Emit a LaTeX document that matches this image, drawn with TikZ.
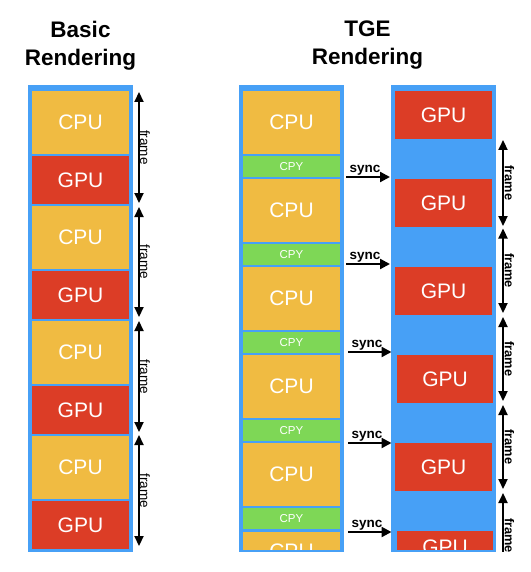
\documentclass[tikz,border=0pt]{standalone}
\usepackage{fontspec}
\setmainfont{Liberation Sans}
\usetikzlibrary{arrows.meta}
\definecolor{tgeblue}{RGB}{71,160,246}
\definecolor{cpuyellow}{RGB}{240,187,66}
\definecolor{gpured}{RGB}{220,61,38}
\definecolor{cpygreen}{RGB}{126,215,86}
\tikzset{
  col/.style={fill=tgeblue, draw=none, inner sep=0pt, outer sep=0pt, anchor=north west, minimum width=105pt, minimum height=467pt},
  blk/.style={draw=none, inner sep=0pt, outer sep=0pt, anchor=north west, minimum width=97pt, text=white, font=\fontsize{21}{21}\selectfont},
  cpu/.style={blk, fill=cpuyellow, minimum height=63pt},
  gpu/.style={blk, fill=gpured, minimum height=48pt},
  cpy/.style={blk, fill=cpygreen, minimum height=21pt, font=\fontsize{11.5}{11.5}\selectfont},
  arr/.style={line width=2.2pt, -{Triangle[length=10pt,width=10pt]}},
  dbl/.style={line width=2.2pt, {Triangle[length=10pt,width=9pt]}-{Triangle[length=10pt,width=9pt]}},
  sgl/.style={line width=2.2pt, {Triangle[length=10pt,width=9pt]}-},
  framelbl/.style={rotate=-90, font=\fontsize{13.5}{13.5}\selectfont, inner sep=0pt},
  framelblb/.style={rotate=-90, font=\bfseries\fontsize{12.8}{12.8}\selectfont, inner sep=0pt},
  synclbl/.style={font=\bfseries\fontsize{13.5}{13.5}\selectfont, anchor=base, inner sep=0pt},
  title/.style={font=\bfseries\fontsize{22.5}{28}\selectfont, align=center, anchor=north, inner sep=0pt},
}
\begin{document}
\begin{tikzpicture}[x=1pt,y=-1pt]
\useasboundingbox[fill=white] (0,0) rectangle (530,572);
% titles
\node[title] (t1) at (80.5,20.9) {Basic\\Rendering};
\node[title] (t2) at (367.5,20.9) {TGE\\Rendering};
% columns
\node[col] (colA) at (28,85) {};
\node[col] (colB) at (239,85) {};
\node[col] (colC) at (391,85) {};
% basic rendering
\foreach \k in {0,1,2,3}{
  \node[cpu] (bc\k) at (32,{91+115*\k}) {CPU};
  \node[gpu] (bg\k) at (32,{156+115*\k}) {GPU};
}
% TGE CPU column
\foreach \k in {0,1,2,3,4}{
  \node[cpu] (tc\k) at (243,{91+88*\k}) {CPU};
  \node[cpy] (ty\k) at (243,{156+88*\k}) {CPY};
}
\begin{scope}
  \clip (243,531) rectangle (340,549);
  \node[cpu, anchor=center, minimum height=39pt] (tc5) at (291.5,551) {CPU};
\end{scope}
% TGE GPU column
\node[gpu] (tg0) at (395,91) {GPU};
\node[gpu] (tg1) at (395,179) {GPU};
\node[gpu] (tg2) at (395,267) {GPU};
\node[gpu, minimum width=96pt] (tg3) at (397,355) {GPU};
\node[gpu] (tg4) at (395,443) {GPU};
\begin{scope}
  \clip (397,531) rectangle (493,549);
  \node[gpu, anchor=center, minimum width=96pt, minimum height=33pt] (tg5) at (445,547.5) {GPU};
\end{scope}
% sync arrows
\coordinate (s0a) at (346,177); \coordinate (s0b) at (390,177);
\coordinate (s1a) at (346,264); \coordinate (s1b) at (390,264);
\coordinate (s2a) at (348,352); \coordinate (s2b) at (391.5,352);
\coordinate (s3a) at (348,443); \coordinate (s3b) at (391.5,443);
\coordinate (s4a) at (348,532); \coordinate (s4b) at (391.5,532);
\foreach \k/\lx/\ly in {0/365/172,1/365/259,2/367/347,3/367/438,4/367/527}{
  \draw[arr] (s\k a) -- (s\k b);
  \node[synclbl] (sl\k) at (\lx,\ly) {sync};
}
% basic frame arrows
\coordinate (fa0) at (139,92);  \coordinate (fb0) at (139,203);
\coordinate (fa1) at (139,207); \coordinate (fb1) at (139,317);
\coordinate (fa2) at (139,321); \coordinate (fb2) at (139,432);
\coordinate (fa3) at (139,435); \coordinate (fb3) at (139,546);
\foreach \k/\yc in {0/147.5,1/262,2/376.5,3/490.5}{
  \draw[dbl] (fa\k) -- (fb\k);
  \node[framelbl] (fl\k) at (145,\yc) {frame};
}
% TGE frame arrows
\coordinate (ga0) at (503,140); \coordinate (gb0) at (503,226);
\coordinate (ga1) at (503,228.5); \coordinate (gb1) at (503,313);
\coordinate (ga2) at (503,317); \coordinate (gb2) at (503,401);
\coordinate (ga3) at (503,405); \coordinate (gb3) at (503,489);
\coordinate (ga4) at (503,493); \coordinate (gb4) at (503,552);
\foreach \k/\yc in {0/183,1/270.5,2/359,3/447}{
  \draw[dbl] (ga\k) -- (gb\k);
  \node[framelblb] (gl\k) at (509.5,\yc) {frame};
}
\draw[sgl] (ga4) -- (gb4);
\node[framelblb] (gl4) at (509.5,535.5) {frame};
\end{tikzpicture}
\end{document}
